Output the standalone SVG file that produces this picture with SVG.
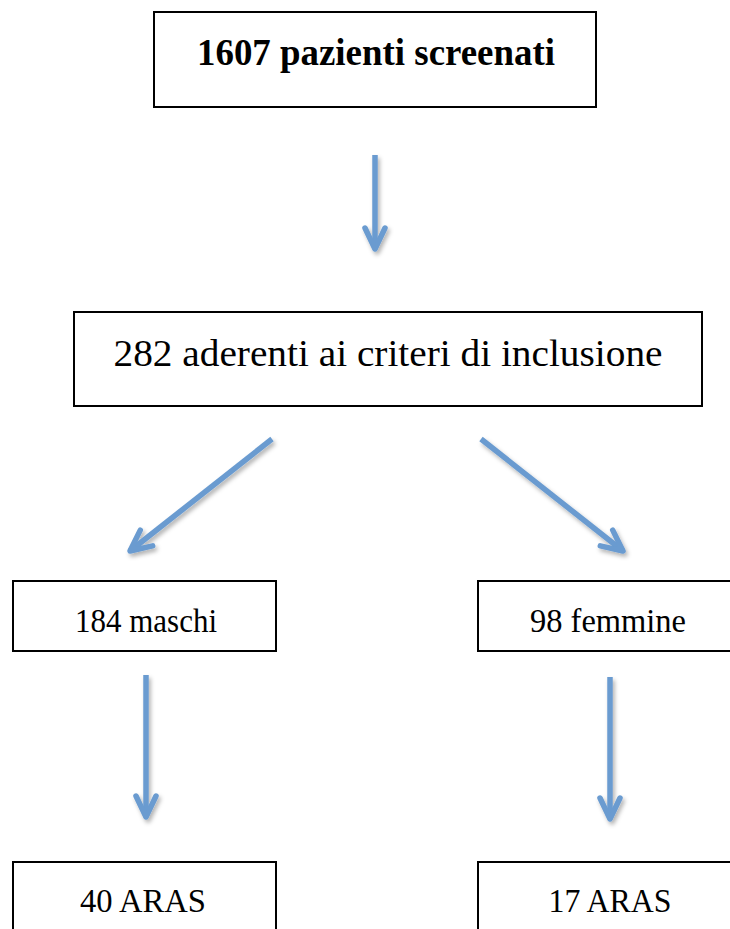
<svg xmlns="http://www.w3.org/2000/svg" width="730" height="929" viewBox="0 0 730 929">
<style>
.box{fill:#ffffff;stroke:#000000;stroke-width:2}
.t{font-family:"Liberation Serif","Times New Roman",serif;fill:#000000;text-anchor:middle}
.b{font-weight:bold;font-size:37px}
.r{font-size:37px}
.s{font-size:34px}
.arr{fill:none;stroke:#6a9bd0;stroke-width:5.5;stroke-linecap:butt}
</style>
<defs>
<filter id="sh" x="-20%" y="-20%" width="140%" height="140%">
<feDropShadow dx="2" dy="3" stdDeviation="2" flood-color="#000000" flood-opacity="0.3"/>
</filter>
<marker id="ah" markerUnits="userSpaceOnUse" markerWidth="40" markerHeight="40" viewBox="-30 -20 40 40" refX="0" refY="0" orient="auto">
<path d="M-21,-10 L0,0 L-21,10" fill="none" stroke="#6a9bd0" stroke-width="5.5" stroke-linecap="round" stroke-linejoin="round"/>
</marker>
</defs>
<rect width="730" height="929" fill="#ffffff"/>
<g id="connectors" filter="url(#sh)">
<line class="arr" x1="375" y1="155" x2="375" y2="249" marker-end="url(#ah)"/>
<line class="arr" x1="272" y1="439" x2="130" y2="551" marker-end="url(#ah)"/>
<line class="arr" x1="481" y1="439" x2="623" y2="551" marker-end="url(#ah)"/>
<line class="arr" x1="146" y1="675" x2="146" y2="817" marker-end="url(#ah)"/>
<line class="arr" x1="610" y1="677" x2="610" y2="819" marker-end="url(#ah)"/>
</g>
<g id="n1">
<rect class="box" x="154" y="12" width="442" height="95"/>
<text class="t b" x="376" y="65" textLength="358" lengthAdjust="spacingAndGlyphs">1607 pazienti screenati</text>
</g>
<g id="n2">
<rect class="box" x="74" y="312" width="628" height="94"/>
<text class="t r" x="388" y="366" textLength="549" lengthAdjust="spacingAndGlyphs">282 aderenti ai criteri di inclusione</text>
</g>
<g id="n3">
<rect class="box" x="13" y="581" width="263" height="70"/>
<text class="t s" x="146" y="632" textLength="142" lengthAdjust="spacingAndGlyphs">184 maschi</text>
</g>
<g id="n4">
<rect class="box" x="478" y="581" width="263" height="70"/>
<text class="t s" x="608" y="632" textLength="156" lengthAdjust="spacingAndGlyphs">98 femmine</text>
</g>
<g id="n5">
<rect class="box" x="13" y="862" width="263" height="80"/>
<text class="t s" x="143" y="912" textLength="126" lengthAdjust="spacingAndGlyphs">40 ARAS</text>
</g>
<g id="n6">
<rect class="box" x="478" y="862" width="263" height="80"/>
<text class="t s" x="610" y="912" textLength="123" lengthAdjust="spacingAndGlyphs">17 ARAS</text>
</g>
</svg>
